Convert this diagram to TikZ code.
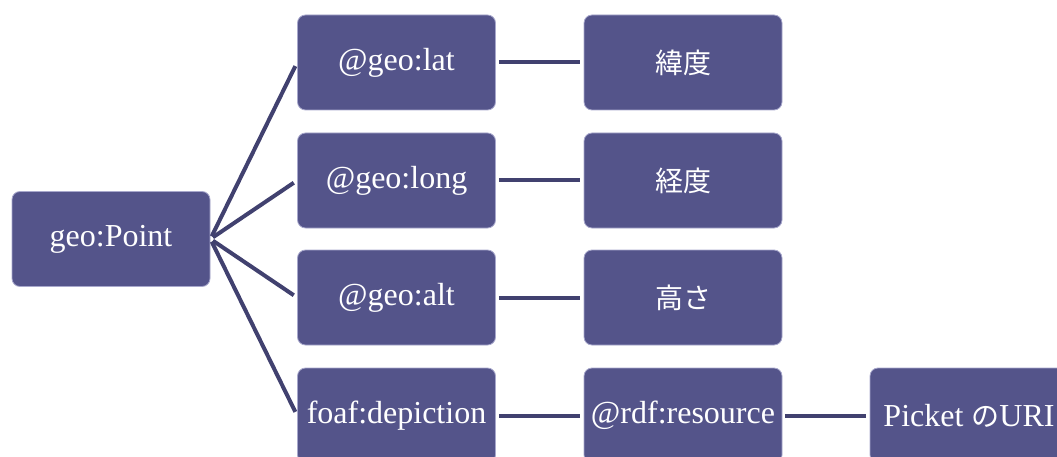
\documentclass[tikz,border=0pt]{standalone}
\usepackage{fontspec}
\setmainfont{Liberation Serif}
\newfontfamily\cjk{Noto Sans CJK JP}
\definecolor{boxc}{HTML}{54548A}
\definecolor{edgec}{HTML}{A8A8CC}
\definecolor{linec}{HTML}{41416F}
\begin{document}
\begin{tikzpicture}[x=1pt,y=-1pt,
  box/.style={draw=edgec, line width=0.8pt, fill=boxc, rounded corners=8pt,
    minimum width=198pt, minimum height=95pt, inner sep=0pt, text=white,
    font=\fontsize{32}{38}\selectfont},
  jp/.style={font=\cjk\fontsize{28}{33}\selectfont},
  link/.style={draw=linec, line width=4pt, shorten <=3pt, shorten >=4pt}]
\useasboundingbox (0,0) rectangle (1057,457);
\clip (0,0) rectangle (1057,457);
\node[box] (p) at (111,239) {geo:Point};
\node[box] (a1) at (396.5,62.5) {@geo:lat};
\node[box] (a2) at (396.5,180.5) {@geo:long};
\node[box] (a3) at (396.5,297.5) {@geo:alt};
\node[box] (a4) at (396.5,415.5) {foaf:depiction};
\node[box,jp] (b1) at (683,62.5) {緯度};
\node[box,jp] (b2) at (683,180.5) {経度};
\node[box,jp] (b3) at (683,297.5) {高さ};
\node[box] (b4) at (683,415.5) {@rdf:resource};
\node[box] (c4) at (969,415.5) {Picket {\cjk\fontsize{28}{33}\selectfont の}URI};
\foreach \t in {a1,a2,a3,a4} \draw[link] (p.east) -- (\t.west);
\foreach \s/\t in {a1/b1,a2/b2,a3/b3,a4/b4,b4/c4} \draw[link] (\s.east) -- (\t.west);
\end{tikzpicture}
\end{document}
